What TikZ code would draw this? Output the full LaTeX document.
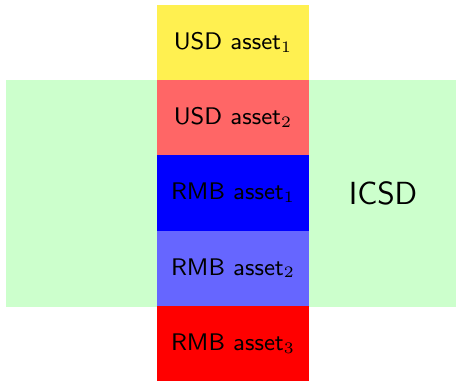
\documentclass[tikz,border=0pt]{standalone}
\usepackage{xcolor}
\definecolor{cyel}{RGB}{255,240,80}
\definecolor{cred}{RGB}{255,102,102}
\definecolor{cblue}{RGB}{0,0,255}
\definecolor{clblue}{RGB}{102,102,255}
\definecolor{cdred}{RGB}{255,0,0}
\definecolor{cgreen}{RGB}{204,255,204}
\begin{document}
\begin{tikzpicture}[x=0.375pt,y=-0.375pt,
  blk/.style={anchor=north west,inner sep=0pt,outer sep=0pt,minimum width=152*0.375pt,minimum height=75.3*0.375pt,font=\fontsize{9}{11}\selectfont\sffamily,text=black},
  bg/.style={fill=cgreen,draw=none}]
\useasboundingbox (0,0) rectangle (456,381);
\fill[cgreen] (6,80) rectangle (456,306.7);
\node[blk,fill=cyel] (u1) at (157,5) {USD asset$_1$};
\node[blk,fill=cred] (u2) at (157,80) {USD asset$_2$};
\node[blk,fill=cblue] (r1) at (157,155.3) {RMB asset$_1$};
\node[blk,fill=clblue] (r2) at (157,230.6) {RMB asset$_2$};
\node[blk,fill=cdred,minimum height=75.1*0.375pt] (r3) at (157,305.9) {RMB asset$_3$};
\node[font=\fontsize{12}{14}\selectfont\sffamily,inner sep=0pt] (icsd) at (383,193.5) {ICSD};
\end{tikzpicture}
\end{document}
